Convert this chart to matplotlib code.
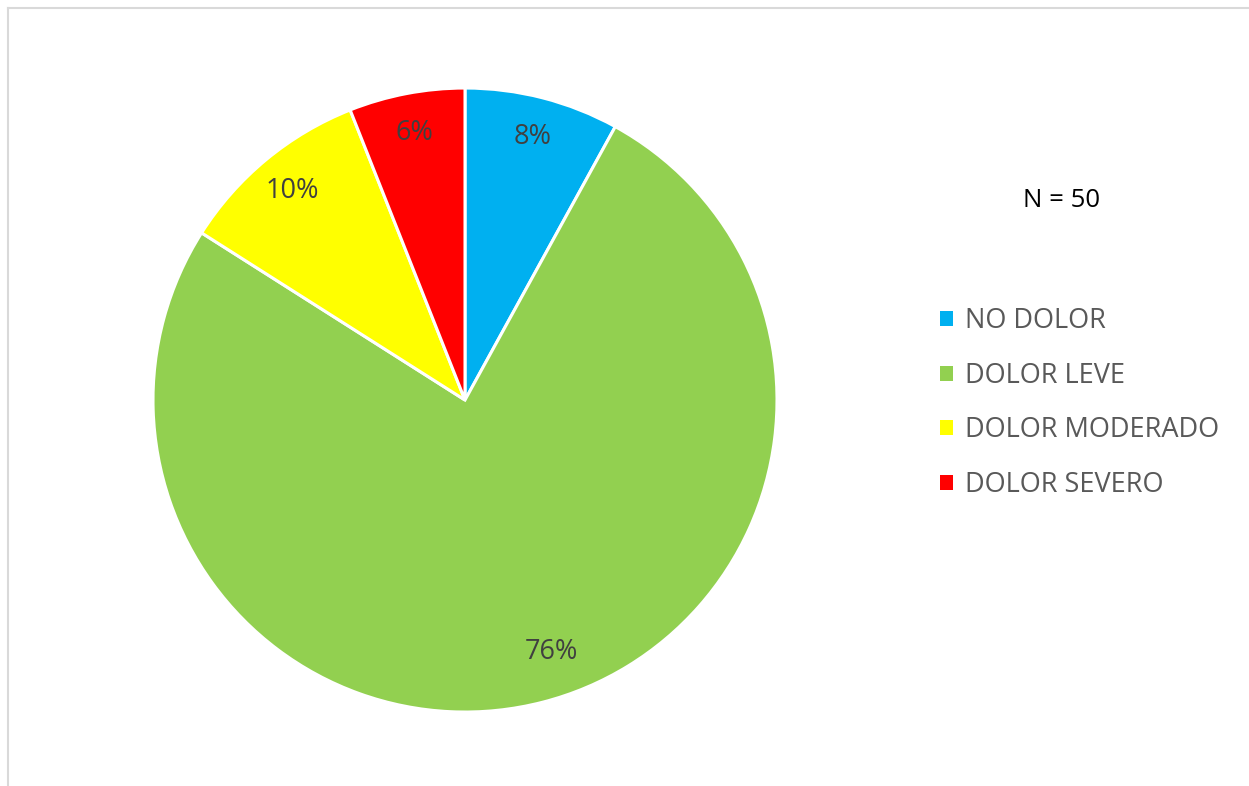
import matplotlib.pyplot as plt
from matplotlib.lines import Line2D
from matplotlib.patches import Patch

plt.rcParams['font.family'] = ['Open Sans', 'DejaVu Sans']

# dolor reportado por los pacientes
categorias = ['NO DOLOR', 'DOLOR LEVE', 'DOLOR MODERADO', 'DOLOR SEVERO']
porcentajes = [8, 76, 10, 6]
colores = ['#00B0F0', '#92D050', '#FFFF00', '#FF0000']
n_total = 50

fig = plt.figure(figsize=(12.49, 7.86), dpi=100)

# marco gris del area del grafico
fig.add_artist(Line2D([0.0065, 0.0065], [0.0, 0.99], color='#D9D9D9', lw=1.5))
fig.add_artist(Line2D([0.0065, 1.0], [0.99, 0.99], color='#D9D9D9', lw=1.5))

ax = fig.add_axes([0.1225, 0.0941, 0.4996, 0.7939])
wedges, texts, autotexts = ax.pie(
    porcentajes, colors=colores, startangle=90, counterclock=False,
    autopct=lambda p: f'{p:.0f}%', pctdistance=0.87, radius=1.0,
    wedgeprops=dict(edgecolor='white', linewidth=2.2),
    textprops=dict(color='#404040', fontsize=19.5))
# la etiqueta del sector grande va un poco desplazada hacia la derecha
autotexts[1].set_position((0.276, -0.808))
ax.set_xlim(-1, 1)
ax.set_ylim(-1, 1)
ax.set_aspect('equal')
ax.axis('off')

fig.text(0.850, 0.745, f'N = {n_total}', fontsize=18.5, color='black',
         ha='center', va='center')

handles = [Patch(facecolor=c, edgecolor='none') for c in colores]
fig.legend(handles, categorias, loc='upper left', bbox_to_anchor=(0.744, 0.623),
           frameon=False, fontsize=19.5, labelcolor='#595959',
           handlelength=0.48, handleheight=0.48, handletextpad=0.45,
           labelspacing=0.98, borderaxespad=0)

fig.savefig('out.png', dpi=100)
